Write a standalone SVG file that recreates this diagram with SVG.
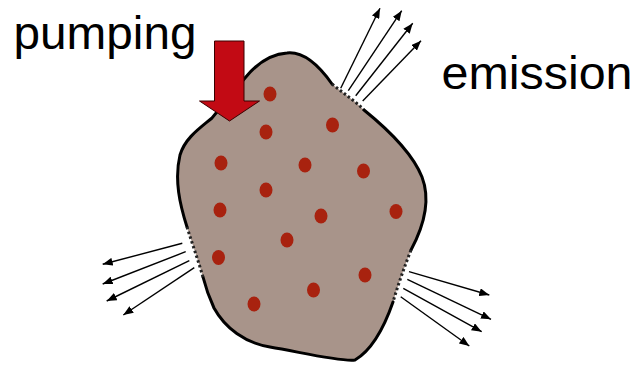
<svg xmlns="http://www.w3.org/2000/svg" width="631" height="366" viewBox="0 0 631 366">
<style>
.lbl{font-family:"Liberation Sans",Arial,sans-serif;font-size:46px;fill:#000}
.solid{fill:none;stroke:#000;stroke-width:3;stroke-linecap:round}
.dot{fill:none;stroke:#222;stroke-width:3;stroke-dasharray:2.5 2.5}
.ray{stroke:#000;stroke-width:1.4;fill:none;marker-end:url(#ah)}
.p{fill:#a8220f}
</style>
<defs>
<marker id="ah" viewBox="0 0 10 8" refX="10" refY="4" markerWidth="10" markerHeight="8" markerUnits="userSpaceOnUse" orient="auto">
<path d="M0,0 L10,4 L0,8 Z" fill="#000"/>
</marker>
</defs>
<g id="particle">
<path d="M287,53 C305,51 320,67 332,84 C343,93 354,100 364,110 C385,127 412,152 422,177 C430,198 426,222 411,250 C404,268 398,285 393,302 C385,325 372,350 355,360 C340,362 300,352 270,347 C245,343 225,328 214,308 C208,295 205,285 203,277 C198,260 192,243 187,227 C180,205 174,180 180,155 C185,138 200,128 212,118 L245,78 C258,62 272,54 287,53 Z" fill="#a8948a"/>
<path class="solid" d="M332,84 C320,67 305,51 287,53 C272,54 258,62 245,78 L212,118 C200,128 185,138 180,155 C174,180 180,205 187,227"/>
<path class="dot" d="M332,84 C343,93 354,100 364,110"/>
<path class="solid" d="M364,110 C385,127 412,152 422,177 C430,198 426,222 411,250"/>
<path class="dot" d="M411,250 C404,268 398,285 393,302"/>
<path class="solid" d="M393,302 C385,325 372,350 355,360 C340,362 300,352 270,347 C245,343 225,328 214,308 C208,295 205,285 203,277"/>
<path class="dot" d="M203,277 C198,260 192,243 187,227"/>
<ellipse class="p" cx="270" cy="94" rx="6.5" ry="7.5"/>
<ellipse class="p" cx="266" cy="132" rx="6.5" ry="7.5"/>
<ellipse class="p" cx="332.5" cy="125" rx="6.5" ry="7.5"/>
<ellipse class="p" cx="221" cy="163" rx="6.5" ry="7.5"/>
<ellipse class="p" cx="305" cy="165" rx="6.5" ry="7.5"/>
<ellipse class="p" cx="363.5" cy="171" rx="6.5" ry="7.5"/>
<ellipse class="p" cx="266" cy="190" rx="6.5" ry="7.5"/>
<ellipse class="p" cx="220" cy="210" rx="6.5" ry="7.5"/>
<ellipse class="p" cx="321" cy="216" rx="6.5" ry="7.5"/>
<ellipse class="p" cx="396" cy="211.5" rx="6.5" ry="7.5"/>
<ellipse class="p" cx="287" cy="240" rx="6.5" ry="7.5"/>
<ellipse class="p" cx="218.5" cy="257.5" rx="6.5" ry="7.5"/>
<ellipse class="p" cx="365" cy="275" rx="6.5" ry="7.5"/>
<ellipse class="p" cx="313.5" cy="290" rx="6.5" ry="7.5"/>
<ellipse class="p" cx="254" cy="304" rx="6.5" ry="7.5"/>
</g>
<g id="pump-arrow">
<path d="M214.5,41 H244 V101 H259.5 L229.5,121 L199.5,101 H214.5 Z" fill="#c20a14" stroke="#3a0000" stroke-width="1"/>
</g>
<g id="connectors">
<line class="ray" x1="340.7" y1="88.3" x2="380" y2="8.3"/>
<line class="ray" x1="348.3" y1="90.7" x2="401.7" y2="10.7"/>
<line class="ray" x1="355.7" y1="95.7" x2="412.7" y2="23.3"/>
<line class="ray" x1="362.7" y1="101" x2="421" y2="40.7"/>
<line class="ray" x1="182.3" y1="243.3" x2="102.7" y2="264.3"/>
<line class="ray" x1="185.7" y1="251.7" x2="102.7" y2="284"/>
<line class="ray" x1="189.3" y1="260.7" x2="106.7" y2="301"/>
<line class="ray" x1="194.3" y1="267.7" x2="123.3" y2="315"/>
<line class="ray" x1="409" y1="271.7" x2="489.3" y2="295"/>
<line class="ray" x1="407.3" y1="279.3" x2="491" y2="319.3"/>
<line class="ray" x1="403.3" y1="288.3" x2="481.7" y2="331.7"/>
<line class="ray" x1="400.7" y1="296.7" x2="469.3" y2="346"/>
</g>
<g id="labels">
<text class="lbl" x="13.5" y="48.5" textLength="183" lengthAdjust="spacingAndGlyphs">pumping</text>
<text class="lbl" x="441.5" y="89" textLength="191" lengthAdjust="spacingAndGlyphs">emission</text>
</g>
</svg>
